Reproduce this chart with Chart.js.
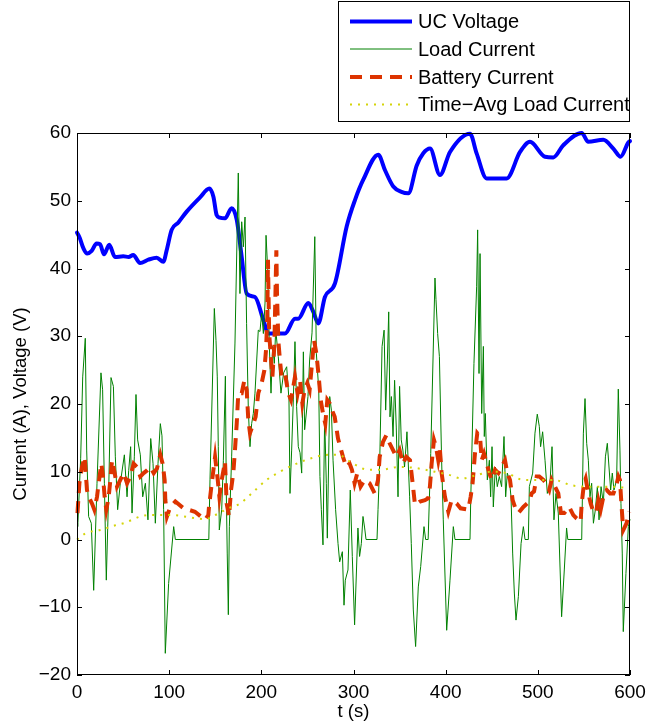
<!DOCTYPE html>
<html>
<head>
<meta charset="utf-8">
<script src="https://cdn.jsdelivr.net/npm/chart.js@4/dist/chart.umd.min.js"></script>
<style>
    html, body { margin: 0; padding: 0; background: #fff; }
    canvas { display: block; }
</style>
</head>
<body>
<canvas id="chart" width="646" height="726"></canvas>
<script>
// --- Data ---
const ucTime = [0, 3, 6.9, 11, 15.9, 21.3, 25, 29.3, 35, 41.2, 50.2, 56, 61, 68.4, 77.4, 86.5, 93.7, 97.3, 102.7, 110, 119, 133.5, 143.6, 148, 151.5, 155, 160.6, 167.8, 173.3, 178.7, 184.1, 193.1, 202.2, 207.6, 225.7, 236.5, 240, 251, 256.4, 261.8, 269, 279.9, 292.6, 301.6, 310.6, 326.9, 334.2, 343.2, 352, 359.5, 368.6, 375.7, 383, 393.8, 404.7, 426.4, 433.6, 444.5, 466.2, 480.7, 491.5, 507.8, 516.8, 527.6, 547.6, 554.7, 571, 581.9, 589.8, 598.2, 600];
const ucVoltage = [45.3, 44.5, 43.0, 42.2, 42.6, 43.7, 43.6, 42.1, 43.5, 41.7, 41.8, 41.7, 42.0, 40.8, 41.3, 41.6, 41.0, 42.7, 45.7, 46.8, 48.4, 50.5, 51.8, 50.6, 47.9, 47.5, 47.4, 48.9, 47.2, 41.7, 36.3, 35.8, 32.4, 30.4, 30.4, 32.6, 32.6, 34.9, 33.6, 31.9, 35.8, 37.8, 46.2, 50.1, 53.1, 56.8, 54.5, 52.1, 51.3, 51.1, 55.2, 57.0, 57.7, 53.8, 57.2, 59.9, 57.0, 53.3, 53.3, 57.2, 58.7, 56.5, 56.4, 58.2, 60, 58.7, 59.0, 57.7, 56.5, 58.6, 58.8];

const loadTime = [0, 1, 4, 6.2, 9, 10.5, 12.6, 15.5, 18.1, 21.7, 26, 27.8, 29.7, 31.8, 34.4, 36.9, 39.5, 41.6, 44.1, 47, 51.4, 54.3, 56.1, 58.2, 59.7, 62.2, 64, 65.8, 68.7, 71.3, 74.2, 77, 80, 82.5, 85, 87.9, 90.4, 92.2, 94, 95.8, 99.4, 104.9, 106.7, 143, 144.3, 149, 150.8, 152.2, 153.3, 154.4, 157, 158.8, 161, 162, 163, 164.2, 165.3, 167.8, 171.4, 175, 176.8, 178.7, 180.5, 182.3, 184, 185.9, 187.7, 189.5, 191.3, 193.1, 196.7, 198.5, 200.4, 202.2, 204, 205.1, 206.9, 208.7, 210.5, 212.3, 214.1, 215.6, 218.4, 221.3, 224.2, 227.5, 230, 231.1, 232.9, 234.7, 236.5, 238.3, 240.1, 242, 243.8, 245.6, 247, 250.6, 252.4, 255, 258, 259.7, 262.3, 263.6, 265.1, 266.9, 268.7, 270.5, 271.6, 274.2, 276, 277.8, 280.6, 283.2, 285, 287.9, 289.7, 291.1, 294, 296.5, 298.7, 301.2, 304.8, 306.6, 308.5, 310.3, 312.1, 313.6, 325.5, 326.6, 328.4, 331, 333.2, 334.9, 336.8, 338.2, 339.6, 341.1, 342.9, 344.6, 346.4, 348.3, 350, 351.8, 353.6, 355.4, 358, 360.9, 362.7, 364.9, 367.4, 370.3, 372.9, 376.5, 378.3, 381, 383.8, 388.4, 389.5, 391.3, 393.2, 395.6, 397.4, 401.1, 404.7, 408.3, 410.1, 426.4, 427.1, 430.7, 433.6, 434.7, 436.2, 437.3, 439.1, 440.9, 441.9, 443, 445.2, 447.4, 448.8, 450.3, 451.7, 453.9, 456, 458.2, 460.7, 463.3, 465.1, 466.9, 469.1, 470.9, 472.7, 474.5, 476.3, 478.9, 481.8, 484.3, 486.1, 489.7, 490.8, 494.4, 496.9, 499.4, 501.6, 503, 505.2, 507.8, 510.3, 513.2, 515.4, 517.5, 519.7, 522.2, 525.8, 528.7, 531.2, 532.5, 547.6, 549.4, 551.2, 553, 554.8, 556.6, 558.4, 560.3, 562.4, 564.6, 566.4, 568.6, 571.1, 573.3, 575.4, 577.2, 579, 580.8, 582.6, 585.5, 587.3, 589.1, 590.2, 591.6, 592.7, 595.6, 598.2, 600];
const loadCurrent = [1.9, 2.5, 12, 24, 29.7, 13.2, 3.4, 2.4, -7.5, 8.3, 24.6, 22.1, 8.3, -6.0, 7.3, 23.9, 22.6, 12.2, 4.4, 8.3, 12.5, 6.3, 10.2, 13.7, 3.9, 12.2, 21.4, 14.7, 12.5, 6.3, 8.3, 2.9, 14.9, 11.2, 2.4, 11.2, 17.1, 15.3, 4.4, -16.8, -6.5, 1.9, 0, 0, 8.8, 34.1, 29.4, 24.0, 13.7, 1.4, 4.4, 11.7, 24.1, 6.9, -2.0, -11.1, 1.9, 12.2, 29.0, 54.1, 36.3, 46.9, 43.2, 47.6, 31.9, 19.1, 13.7, 17.1, 18.6, 21.6, 30.9, 30.7, 33.4, 30.4, 34.9, 44.9, 39.8, 28.5, 21.6, 28.5, 26.0, 31.0, 27.0, 21.6, 24.6, 25.5, 20.6, 6.8, 13.2, 20.6, 29.2, 19.6, 13.7, 12.8, 9.8, 27.7, 16.2, 21.1, 26.5, 30.5, 44.7, 27.5, 22.1, 9.3, 4.4, -0.8, 18.1, 8.3, 0.2, 21.1, 19.1, 11.7, 4.4, -0.6, -3.3, -1.8, -9.7, -6.0, -4.5, 7.3, -2.5, -12.6, 1.7, -2.5, -0.6, 3.4, 1.7, 0, 0, 4.4, 11.2, 28.5, 30.9, 19.1, 26.5, 33.6, 18.1, 21.1, 15.2, 23.5, 16.6, 6.3, 22.6, 14.7, 13.2, 10.7, 15.9, 6.3, -0.6, -10.4, -15.8, -7.0, -4.0, 1.9, 0, 0, 12.7, 38.6, 35.4, 30.4, 27.0, 11.7, 2.9, -13.4, -6.0, 1.9, 0, 0, 5.3, 26.0, 37.3, 45.7, 24.5, 42.2, 18.6, 28.5, 15.2, 18.6, 8.8, 11.7, 6.3, 13.7, 4.8, 10.7, 7.8, 9.3, 7.8, 15.2, 6.3, 9.8, 8.8, 6.3, -2.0, -7.9, -11.9, -8.4, -0.6, 1.9, 0, 0, 7.8, 9.8, 15.7, 18.5, 16.7, 13.7, 15.9, 11.7, 6.8, 8.3, 13.7, 2.9, 6.8, 3.9, -11.4, -4.5, 1.7, 0, 0, 15.7, 20.8, 14.2, 11.7, 6.3, 8.3, 2.4, 4.4, 7.8, 2.9, 7.8, 5.3, 12.2, 14.2, 10.7, 7.3, 9.8, 7.3, 8.8, 22.2, 13.2, 5.3, -2.0, -13.6, -5.0, 1.9, 3];

const batTime = [0.5, 2.6, 5.4, 8.3, 10.8, 12.6, 16.3, 18.8, 21.7, 23.5, 26.4, 28.2, 30, 31.8, 34.4, 36.2, 38, 40.9, 43.4, 47, 50.6, 54.3, 57.9, 61.5, 65.1, 68.7, 72.3, 76, 79.6, 83.2, 86.8, 90.4, 92.9, 95.1, 95.8, 97.6, 101.2, 106.7, 115.7, 128, 138.9, 142.5, 143.2, 146.2, 149.8, 152.7, 154.5, 157, 160.6, 162.4, 165, 167.1, 169.6, 171.4, 173.3, 175, 178.7, 181.6, 184.1, 185.9, 187.7, 191.3, 193.8, 196.7, 200.4, 203.3, 205.1, 206.5, 207.2, 208.5, 210, 212, 214.1, 216.3, 217, 218.4, 220.2, 222, 225.7, 229.3, 232.2, 236.5, 239.4, 242, 244.5, 247, 249.9, 252.4, 255, 257.2, 259.7, 262.3, 264.4, 266.9, 269.4, 271.6, 274.2, 276.7, 279.6, 283.2, 288.6, 292.2, 295.8, 298.3, 301.2, 304.1, 307.7, 312.1, 317.5, 323, 326.6, 328.4, 332, 335.6, 339.2, 342.9, 346.4, 350, 353.6, 357.2, 361.3, 364.2, 366.7, 372.1, 377.5, 381.1, 382.9, 384.8, 387.3, 389.5, 392, 393.8, 395.6, 399.2, 402.9, 406.5, 411.9, 416.2, 424.5, 427.1, 429.2, 431.8, 434.3, 437.3, 439.1, 441.6, 444.5, 447.4, 450, 453.6, 457.2, 460.7, 464.4, 466.9, 469.8, 472.7, 475.2, 478.9, 484.3, 490.8, 493.3, 495.9, 498.8, 501.6, 506, 508.8, 512.4, 515, 518.6, 522.2, 525.1, 528.7, 534.1, 538.5, 542.1, 546.4, 547.6, 550.1, 551.9, 554.8, 557.4, 559.5, 563.1, 565.7, 568.2, 571.1, 574.7, 578.3, 582, 584.9, 587.4, 589.1, 590.9, 592.7, 596.3, 599.2];
const batCurrent = [3.9, 8.3, 10.7, 12.2, 7.3, 6.3, 5.3, 4.4, 6.3, 8.3, 11.2, 9.3, 6.3, 4.4, 6.3, 8.8, 11.7, 9.8, 7.8, 8.8, 9.8, 8.3, 9.3, 11.2, 10.7, 9.3, 9.8, 10.2, 10.7, 9.8, 10.5, 12.5, 11.2, 8.8, 5.9, 3.4, 4.8, 5.6, 4.6, 4.1, 2.9, 3.6, 4.8, 8.3, 12.2, 8.8, 6.3, 8.8, 11.5, 5.3, 3.4, 7.3, 9.8, 13.2, 17.1, 21.6, 21.6, 23.5, 22.1, 17.6, 15.7, 17.1, 18.1, 21.6, 23.1, 25.0, 28.0, 32.9, 41.3, 30.5, 27.5, 24.0, 28.5, 42.7, 36.3, 29.4, 26.5, 24.0, 24.5, 21.6, 20.6, 24.0, 21.6, 23.5, 20.1, 22.1, 23.1, 22.1, 26.0, 29.4, 27.5, 24.0, 20.6, 18.6, 17.1, 20.6, 20.1, 19.1, 18.1, 14.9, 12.2, 10.7, 11.2, 10.3, 8.3, 9.8, 7.8, 8.8, 8.3, 6.8, 8.8, 12.2, 14.4, 15.4, 14.2, 13.2, 12.2, 13.2, 11.2, 12.2, 11.7, 8.3, 5.1, 5.6, 5.8, 6.1, 7.8, 11.2, 14.7, 13.7, 11.7, 13.2, 9.8, 6.3, 4.1, 5.8, 5.3, 4.6, 4.4, 6.3, 8.3, 12.7, 15.7, 15.2, 11.7, 12.7, 11.2, 9.8, 8.8, 10.3, 9.8, 10.7, 11.7, 9.8, 8.8, 5.8, 4.8, 3.9, 4.8, 5.6, 6.8, 7.1, 9.3, 9.3, 8.8, 8.3, 7.3, 8.8, 7.8, 6.8, 3.9, 3.9, 4.8, 3.6, 3.1, 2.6, 5.3, 8.3, 9.0, 6.8, 5.3, 4.4, 3.9, 5.8, 4.4, 6.3, 7.3, 6.8, 6.8, 7.8, 9.3, 8.8, 4.8, 1.4, 2.4, 4.1];

const avgTime = [0, 9, 16.3, 25.3, 32.5, 41.6, 50.6, 59.7, 68.7, 77.8, 103, 121, 139, 149.8, 164.2, 176.8, 189.5, 205.8, 220.2, 238.3, 254.2, 272.3, 283.2, 299.4, 315.7, 330.2, 348.3, 364.5, 388.4, 404.7, 417.4, 433.6, 449.9, 466.2, 484.3, 516.8, 536.7, 553, 574.7, 600];
const avgCurrent = [0, 0.9, 1.2, 1.4, 1.7, 2.1, 2.4, 2.9, 3.4, 3.6, 3.6, 3.3, 3.0, 3.6, 4.6, 5.3, 6.8, 8.8, 10.0, 11.2, 12.0, 12.5, 12.5, 11.2, 10.3, 10.3, 10.7, 10.6, 10.0, 9.5, 9.0, 9.5, 10.0, 9.8, 8.8, 8.8, 8.0, 7.8, 7.8, 7.6];

const xTicks = [0, 100, 200, 300, 400, 500, 600];
const yTicks = [-20, -10, 0, 10, 20, 30, 40, 50, 60];

// --- Helpers ---
const FONT = "'Liberation Sans', Arial, Helvetica, sans-serif";
const toPoints = (xs, ys) => xs.map((x, i) => ({ x: x, y: ys[i] }));

// MATLAB-style box: frame plus inward tick marks on all four sides
const boxPlugin = {
    id: 'matlabBox',
    afterDatasetsDraw(chart) {
        const { ctx, chartArea: a, scales } = chart;
        ctx.save();
        ctx.strokeStyle = '#000';
        ctx.lineWidth = 1;
        ctx.setLineDash([]);
        ctx.strokeRect(Math.round(a.left) + 0.5, Math.round(a.top) + 0.5,
            Math.round(a.right - a.left) - 1, Math.round(a.bottom - a.top) - 1);
        const len = 5;
        ctx.beginPath();
        xTicks.forEach(v => {
            const x = Math.round(scales.x.getPixelForValue(v)) + 0.5;
            ctx.moveTo(x, a.bottom); ctx.lineTo(x, a.bottom - len);
            ctx.moveTo(x, a.top); ctx.lineTo(x, a.top + len);
        });
        yTicks.forEach(v => {
            const y = Math.round(scales.y.getPixelForValue(v)) + 0.5;
            ctx.moveTo(a.left, y); ctx.lineTo(a.left + len, y);
            ctx.moveTo(a.right, y); ctx.lineTo(a.right - len, y);
        });
        ctx.stroke();
        ctx.restore();
    }
};

// Legend box above the axes, top right
const legendPlugin = {
    id: 'boxLegend',
    afterDraw(chart) {
        const ctx = chart.ctx;
        const box = { x: 338.5, y: 1.5, w: 291, h: 120 };
        const rowY = [21.5, 49, 77, 104.5];
        ctx.save();
        ctx.fillStyle = '#fff';
        ctx.fillRect(box.x, box.y, box.w, box.h);
        ctx.strokeStyle = '#000';
        ctx.lineWidth = 1;
        ctx.strokeRect(box.x, box.y, box.w, box.h);
        chart.data.datasets.forEach((ds, i) => {
            const y = rowY[i];
            ctx.beginPath();
            ctx.strokeStyle = ds.borderColor;
            ctx.lineWidth = ds.borderWidth;
            ctx.setLineDash(ds.borderDash || []);
            ctx.lineCap = 'butt';
            ctx.moveTo(350, y);
            ctx.lineTo(412, y);
            ctx.stroke();
            ctx.setLineDash([]);
            ctx.fillStyle = '#000';
            ctx.font = '20px ' + FONT;
            ctx.textBaseline = 'middle';
            ctx.fillText(ds.label, 418, y + 1);
        });
        ctx.restore();
    }
};

// --- Chart ---
const ctx = document.getElementById('chart').getContext('2d');
new Chart(ctx, {
    type: 'line',
    data: {
        datasets: [{
            label: 'UC Voltage',
            data: toPoints(ucTime, ucVoltage),
            borderColor: '#0000ff',
            borderWidth: 4,
            borderJoinStyle: 'round',
            borderCapStyle: 'round',
            cubicInterpolationMode: 'monotone',
            order: 4
        }, {
            label: 'Load Current',
            data: toPoints(loadTime, loadCurrent),
            borderColor: '#008000',
            borderWidth: 1,
            order: 3
        }, {
            label: 'Battery Current',
            data: toPoints(batTime, batCurrent),
            borderColor: '#dd3300',
            borderWidth: 4,
            borderDash: [12, 8],
            order: 2
        }, {
            label: 'Time\u2212Avg Load Current',
            data: toPoints(avgTime, avgCurrent),
            borderColor: '#d4d40a',
            borderWidth: 2,
            borderDash: [2, 6],
            cubicInterpolationMode: 'monotone',
            order: 1
        }]
    },
    options: {
        responsive: false,
        maintainAspectRatio: false,
        animation: false,
        events: [],
        layout: { padding: { top: 133, right: 16, left: 0, bottom: 0 } },
        elements: {
            point: { radius: 0 },
            line: { tension: 0, fill: false }
        },
        datasets: { line: { clip: false } },
        plugins: {
            legend: { display: false },
            tooltip: { enabled: false }
        },
        scales: {
            x: {
                type: 'linear',
                min: 0,
                max: 600,
                afterFit: s => { s.height = 51; s.paddingLeft = 0; s.paddingRight = 0; },
                afterBuildTicks: s => { s.ticks = xTicks.map(v => ({ value: v })); },
                grid: { display: false, drawTicks: false },
                border: { display: false },
                ticks: { color: '#000', padding: 6, font: { family: FONT, size: 19 }, maxRotation: 0 },
                title: { display: true, text: 't (s)', color: '#000', padding: { top: 0, bottom: 3 }, font: { family: FONT, size: 18.5 } }
            },
            y: {
                type: 'linear',
                min: -20,
                max: 60,
                afterFit: s => { s.width = 77; s.paddingTop = 0; s.paddingBottom = 0; },
                afterBuildTicks: s => { s.ticks = yTicks.map(v => ({ value: v })); },
                grid: { display: false, drawTicks: false },
                border: { display: false },
                ticks: {
                    color: '#000', padding: 6, font: { family: FONT, size: 19 },
                    callback: v => String(v).replace('-', '\u2212')
                },
                title: { display: true, text: 'Current (A), Voltage (V)', color: '#000', padding: { top: 10, bottom: 0 }, font: { family: FONT, size: 18.5 } }
            }
        }
    },
    plugins: [boxPlugin, legendPlugin]
});
</script>
</body>
</html>
